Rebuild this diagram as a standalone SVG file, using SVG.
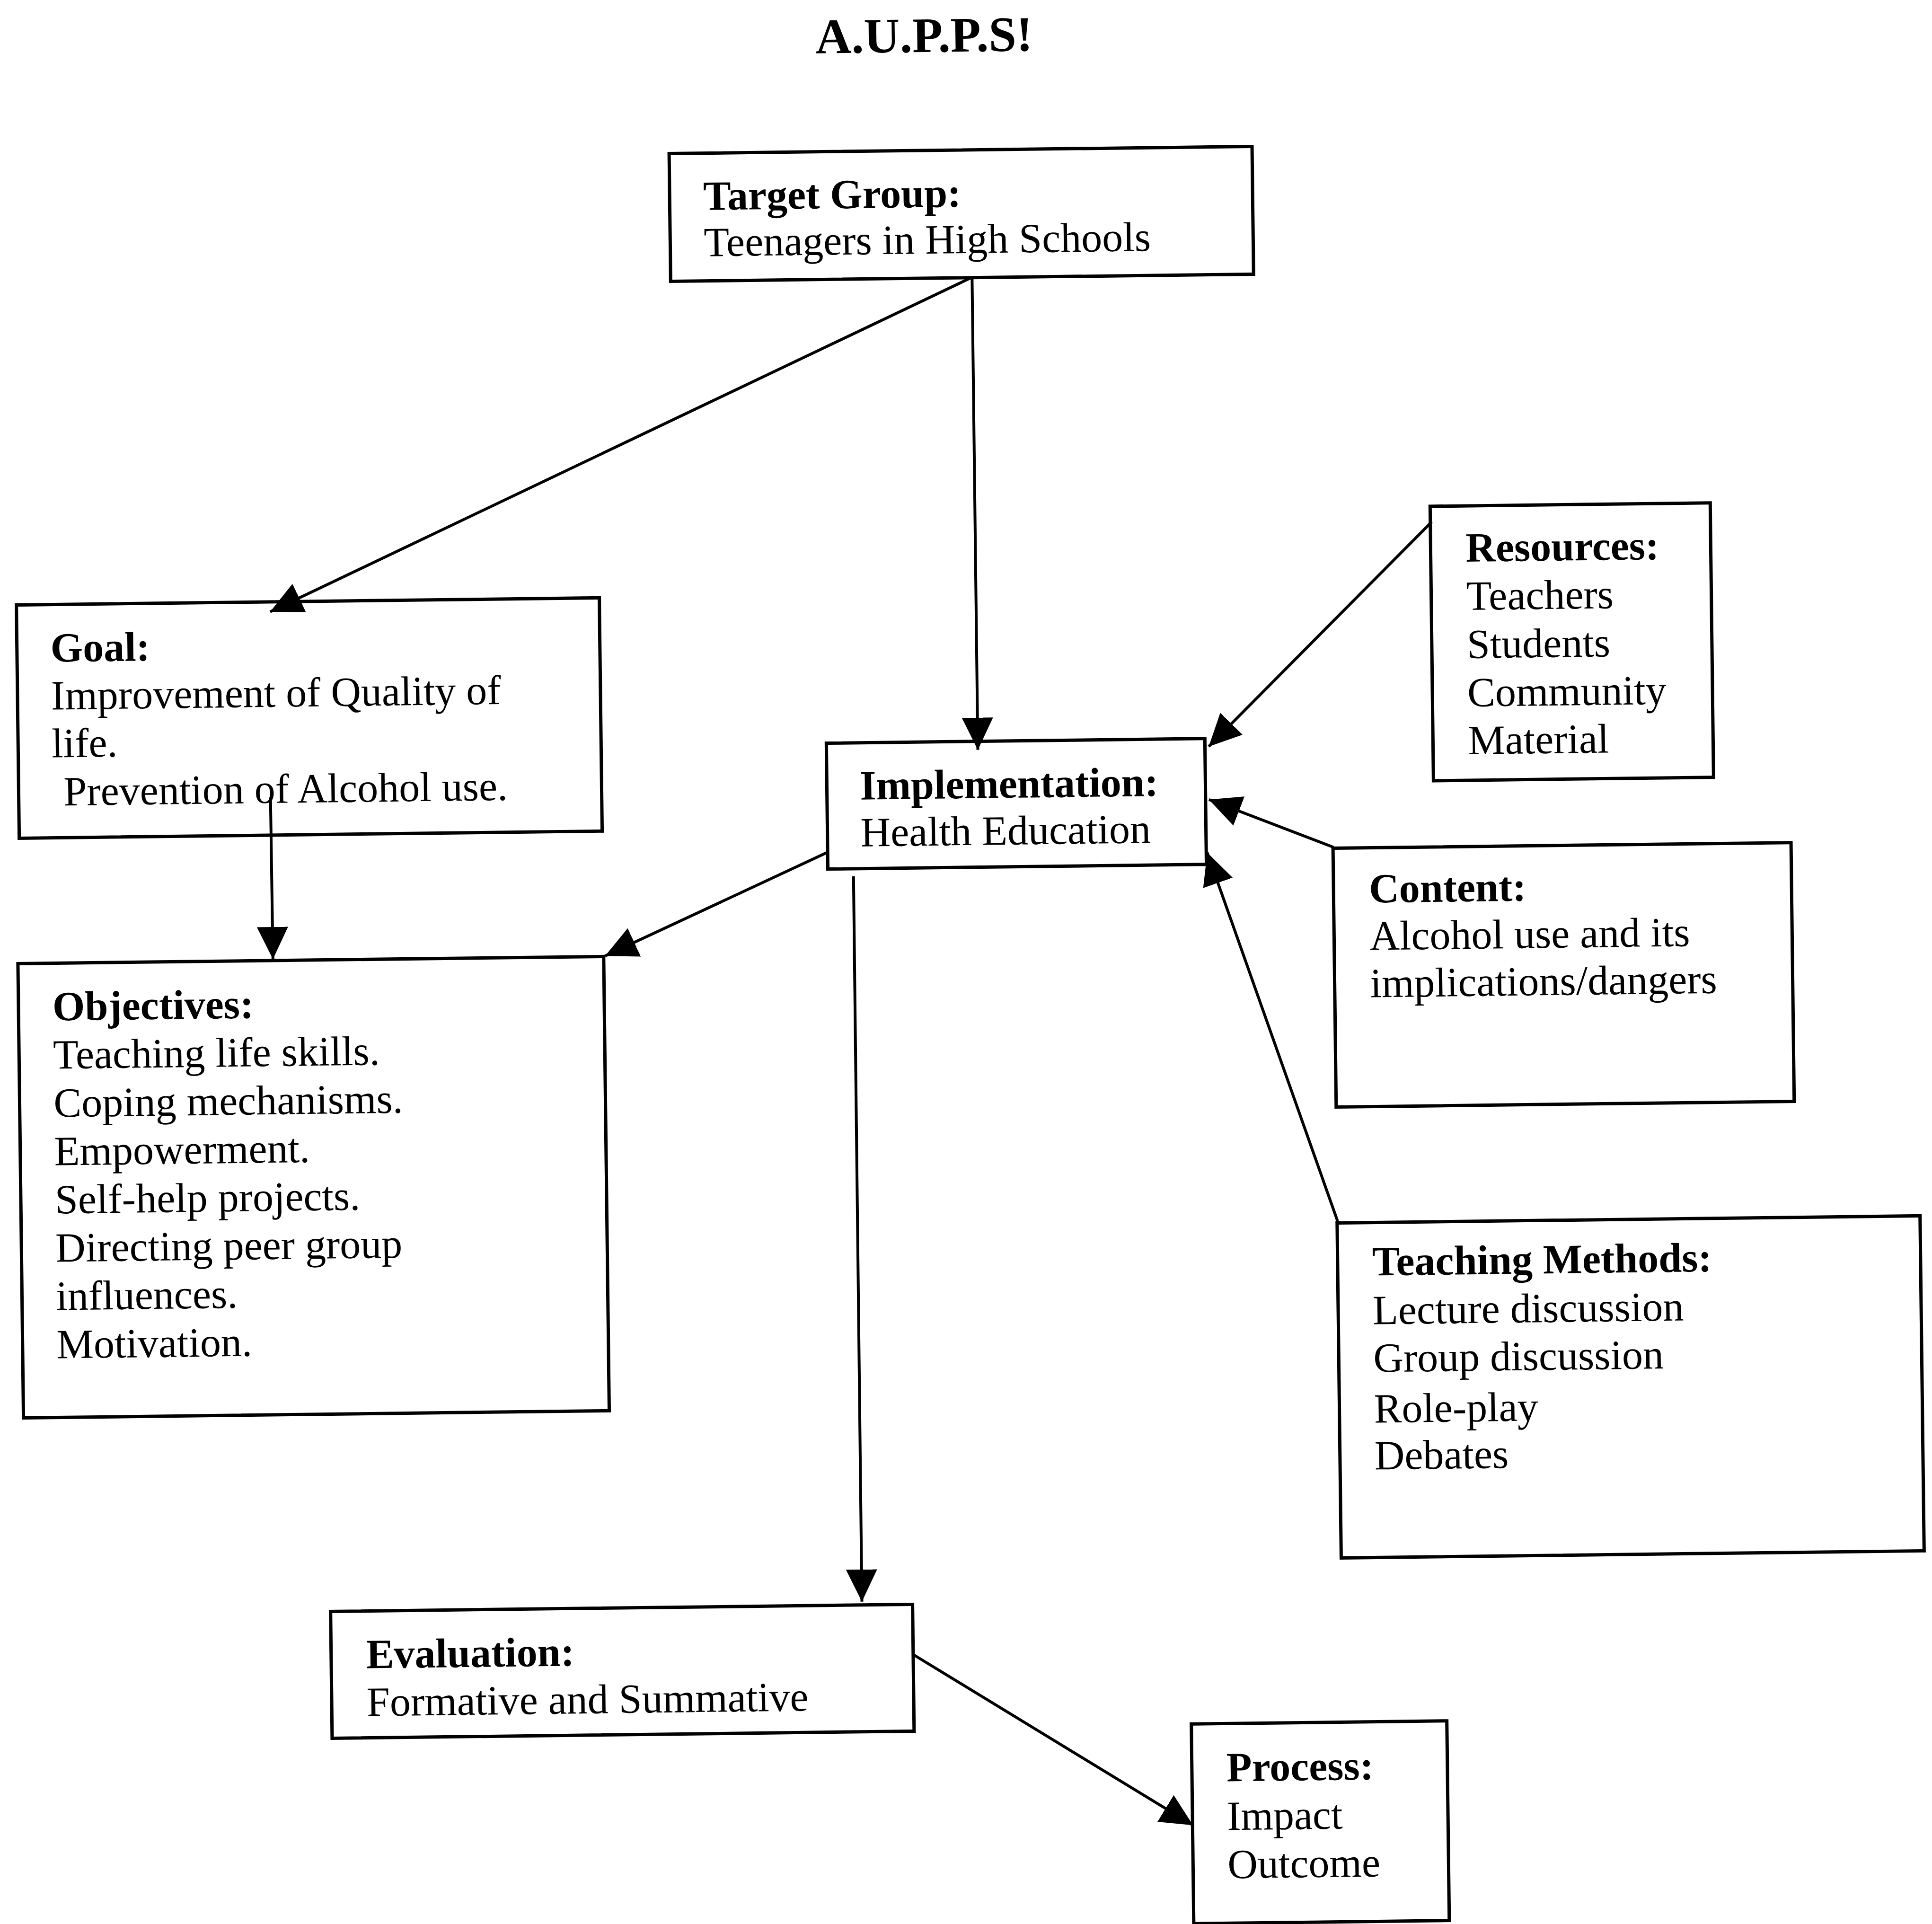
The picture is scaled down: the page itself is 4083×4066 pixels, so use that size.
<svg xmlns="http://www.w3.org/2000/svg" width="4083" height="4066" viewBox="0 0 4083 4066">
  <style>
    .box { fill: #fff; stroke: #000; stroke-width: 7; }
    .conn { fill: none; stroke: #000; stroke-width: 6; marker-end: url(#ah); }
    text { font-family: "Liberation Serif", "Times New Roman", serif; font-size: 88px; fill: #000; }
    .h { font-weight: bold; }
    .title { font-weight: bold; font-size: 105px; text-anchor: middle; }
  </style>
  <defs>
    <marker id="ah" viewBox="0 0 68 66" refX="68" refY="33" markerWidth="68" markerHeight="66" markerUnits="userSpaceOnUse" orient="auto">
      <path d="M0,0 L68,33 L0,66 z" fill="#000"/>
    </marker>
  </defs>
  <rect x="0" y="0" width="4083" height="4066" fill="#fff"/>
  <g transform="rotate(-0.7 2041 2033)">
    <g id="title">
      <text class="title" x="1977" y="109">A.U.P.P.S!</text>
    </g>
    <g id="node-target">
      <rect class="box" x="1435" y="317" width="1232" height="270"/>
      <text class="h" x="1506" y="437">Target Group:</text>
      <text x="1506" y="535">Teenagers in High Schools</text>
    </g>
    <g id="node-goal">
      <rect class="box" x="44" y="1254" width="1232" height="493"/>
      <text class="h" x="115" y="1375">Goal:</text>
      <text x="115" y="1476">Improvement of Quality of</text>
      <text x="115" y="1577">life.</text>
      <text x="139" y="1679">Prevention of Alcohol use.</text>
    </g>
    <g id="node-implementation">
      <rect class="box" x="1752" y="1567" width="800" height="266"/>
      <text class="h" x="1822" y="1687">Implementation:</text>
      <text x="1822" y="1786">Health Education</text>
    </g>
    <g id="node-objectives">
      <rect class="box" x="38" y="2012" width="1238" height="960"/>
      <text class="h" x="110" y="2133">Objectives:</text>
      <text x="110" y="2235">Teaching life skills.</text>
      <text x="110" y="2337">Coping mechanisms.</text>
      <text x="110" y="2439">Empowerment.</text>
      <text x="110" y="2541">Self-help projects.</text>
      <text x="110" y="2643">Directing peer group</text>
      <text x="110" y="2745">influences.</text>
      <text x="110" y="2847">Motivation.</text>
    </g>
    <g id="node-resources">
      <rect class="box" x="3034" y="1082" width="592" height="580"/>
      <text class="h" x="3108" y="1200">Resources:</text>
      <text x="3108" y="1302">Teachers</text>
      <text x="3108" y="1404">Students</text>
      <text x="3108" y="1506">Community</text>
      <text x="3108" y="1607">Material</text>
    </g>
    <g id="node-content">
      <rect class="box" x="2820" y="1802" width="968" height="547"/>
      <text class="h" x="2895" y="1918">Content:</text>
      <text x="2895" y="2018">Alcohol use and its</text>
      <text x="2895" y="2118">implications/dangers</text>
    </g>
    <g id="node-teaching">
      <rect class="box" x="2819" y="2594" width="1232" height="708"/>
      <text class="h" x="2892" y="2706">Teaching Methods:</text>
      <text x="2892" y="2809">Lecture discussion</text>
      <text x="2892" y="2910">Group discussion</text>
      <text x="2892" y="3017">Role-play</text>
      <text x="2892" y="3116">Debates</text>
    </g>
    <g id="node-evaluation">
      <rect class="box" x="682" y="3389" width="1230" height="268"/>
      <text class="h" x="756" y="3510">Evaluation:</text>
      <text x="756" y="3611">Formative and Summative</text>
    </g>
    <g id="node-process">
      <rect class="box" x="2498" y="3649" width="540" height="422"/>
      <text class="h" x="2571" y="3771">Process:</text>
      <text x="2571" y="3874">Impact</text>
      <text x="2571" y="3976">Outcome</text>
    </g>
    <g id="connectors">
      <path class="conn" d="M2068,588 L580,1275"/>
      <path class="conn" d="M2072,590 L2072,1585"/>
      <path class="conn" d="M576,1667 L577,2009"/>
      <path class="conn" d="M1751,1798 L1279,2011"/>
      <path class="conn" d="M1806,1849 L1805,3382"/>
      <path class="conn" d="M3037,1115 L2560,1584"/>
      <path class="conn" d="M2821,1800 L2559,1696"/>
      <path class="conn" d="M2820,2590 L2554,1808"/>
      <path class="conn" d="M1912,3495 L2499,3863"/>
    </g>
  </g>
</svg>
